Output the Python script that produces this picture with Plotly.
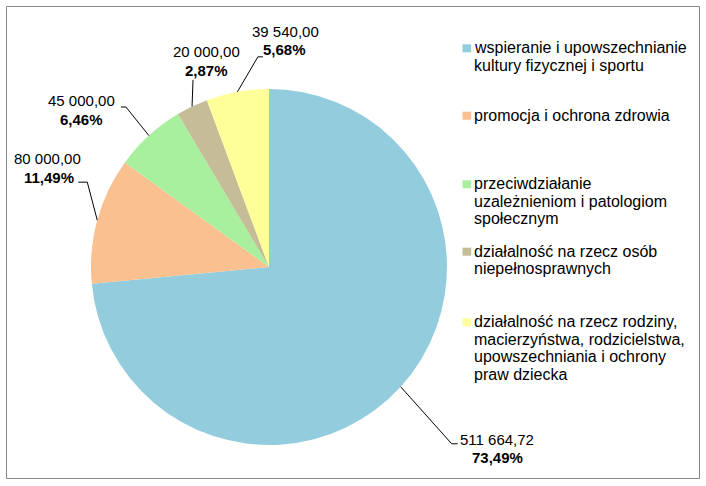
import math
import plotly.graph_objects as go

W, H = 706, 486

categories = [
    "wspieranie i upowszechnianie kultury fizycznej i sportu",
    "promocja i ochrona zdrowia",
    "przeciwdziałanie uzależnieniom i patologiom społecznym",
    "działalność na rzecz osób niepełnosprawnych",
    "działalność na rzecz rodziny, macierzyństwa, rodzicielstwa, upowszechniania i ochrony praw dziecka",
]
legend_lines = [
    ["wspieranie i upowszechnianie", "kultury fizycznej i sportu"],
    ["promocja i ochrona zdrowia"],
    ["przeciwdziałanie", "uzależnieniom i patologiom", "społecznym"],
    ["działalność na rzecz osób", "niepełnosprawnych"],
    ["działalność na rzecz rodziny,", "macierzyństwa, rodzicielstwa,",
     "upowszechniania i ochrony", "praw dziecka"],
]
values = [511664.72, 80000.00, 45000.00, 20000.00, 39540.00]
value_labels = ["511 664,72", "80 000,00", "45 000,00", "20 000,00", "39 540,00"]
percent_labels = ["73,49%", "11,49%", "6,46%", "2,87%", "5,68%"]

colors = ["#93CDDD", "#FAC090", "#A8F09D", "#C4BD97", "#FFFF99"]

# layout geometry (pixels)
CX, CY, R = 269, 267, 178
FONT = "Liberation Sans, Arial, sans-serif"
FS_LABEL = 15
FS_LEGEND = 16


def px(x):
    return x / W


def py(y):
    return 1 - y / H


fig = go.Figure()
fig.add_trace(go.Pie(
    labels=categories,
    values=values,
    sort=False,
    direction="clockwise",
    rotation=0,
    textinfo="none",
    hoverinfo="label+value+percent",
    marker=dict(colors=colors, line=dict(width=0)),
    domain=dict(x=[px(CX - R), px(CX + R)], y=[py(CY + R), py(CY - R)]),
    showlegend=False,
))

# leader style: elbow offset from slice edge, horizontal tail, label offsets from tail end
label_style = [
    dict(elbow=(51, 57), tail=6, val=(39.5, -4), pct=(40, 14)),      # blue
    dict(elbow=(-10, -38), tail=-9, val=(-30.5, -24), pct=(-29.5, -5)),  # orange
    dict(elbow=(-23, -28.6), tail=-5, val=(-39, -7), pct=(-39, 12)),  # green
    dict(elbow=(1, -26.6), tail=0, val=(13, -28), pct=(13, -9)),     # tan
    dict(elbow=(20.5, -35), tail=5, val=(23, -25), pct=(22, -7)),    # yellow
]

shapes = []
annotations = []
total = sum(values)
cum = 0.0
for i, v in enumerate(values):
    mid = (cum + v / 2) / total
    cum += v
    ang = 2 * math.pi * mid
    ex = CX + R * math.sin(ang)
    ey = CY - R * math.cos(ang)
    st = label_style[i]
    bx = ex + st["elbow"][0]
    by = ey + st["elbow"][1]
    tx = bx + st["tail"]
    ty = by
    path = f"M {px(ex)},{py(ey)} L {px(bx)},{py(by)} L {px(tx)},{py(ty)}"
    shapes.append(dict(type="path", xref="paper", yref="paper", path=path,
                       line=dict(color="#000000", width=1)))
    annotations.append(dict(x=px(tx + st["val"][0]), y=py(ty + st["val"][1]),
                            xref="paper", yref="paper", text=value_labels[i],
                            showarrow=False, xanchor="center", yanchor="middle",
                            font=dict(family=FONT, size=FS_LABEL, color="#000000")))
    annotations.append(dict(x=px(tx + st["pct"][0]), y=py(ty + st["pct"][1]),
                            xref="paper", yref="paper", text=f"<b>{percent_labels[i]}</b>",
                            showarrow=False, xanchor="center", yanchor="middle",
                            font=dict(family=FONT, size=FS_LABEL, color="#000000")))

# legend (drawn manually): first-line baselines and line spacing
legend_baselines = [53.3, 120.7, 189.3, 256.7, 327.3]
LINE_GAP = 17.6
for i, lines in enumerate(legend_lines):
    b0 = legend_baselines[i]
    shapes.append(dict(type="rect", xref="paper", yref="paper",
                       x0=px(462.5), x1=px(471.2), y0=py(b0 - 1), y1=py(b0 - 9),
                       fillcolor=colors[i], line=dict(width=0)))
    for k, line in enumerate(lines):
        base = b0 + k * LINE_GAP
        annotations.append(dict(x=px(471.5), y=py(base - 5.6), xref="paper", yref="paper",
                                text=line, showarrow=False, xanchor="left", yanchor="middle",
                                align="left",
                                font=dict(family=FONT, size=FS_LEGEND, color="#000000")))

# outer border
shapes.append(dict(type="rect", xref="paper", yref="paper",
                   x0=px(6.5), x1=px(699.5), y0=py(478.5), y1=py(6.5),
                   line=dict(color="#868686", width=1), fillcolor="rgba(0,0,0,0)"))

fig.update_layout(
    width=W, height=H,
    margin=dict(l=0, r=0, t=0, b=0),
    paper_bgcolor="#FFFFFF",
    plot_bgcolor="#FFFFFF",
    shapes=shapes,
    annotations=annotations,
    font=dict(family=FONT, size=FS_LABEL, color="#000000"),
)

fig.write_html(
    "out.html",
    config={"displayModeBar": False},
    post_script="document.body.style.margin='0';document.body.style.overflow='hidden';",
)
